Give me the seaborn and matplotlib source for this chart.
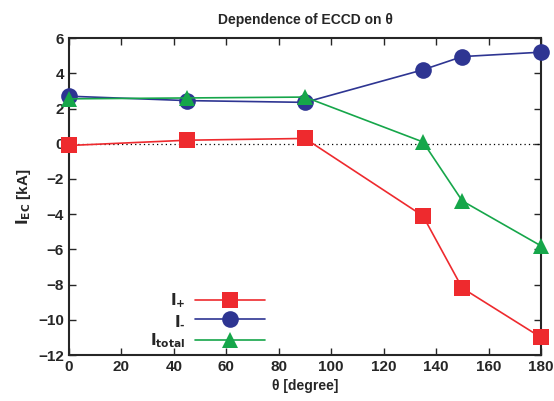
import matplotlib
matplotlib.use("Agg")
import matplotlib.pyplot as plt
import seaborn as sns
import pandas as pd

theta = [0, 45, 90, 135, 150, 180]
i_plus = [-0.1, 0.2, 0.3, -4.1, -8.2, -11.0]
i_minus = [2.7, 2.45, 2.35, 4.2, 4.95, 5.2]
i_total = [2.55, 2.6, 2.65, 0.1, -3.25, -5.8]
xticks = [0, 20, 40, 60, 80, 100, 120, 140, 160, 180]
yticks = [-12, -10, -8, -6, -4, -2, 0, 2, 4, 6]

sns.set_style("ticks")
plt.rcParams['font.family'] = ['Liberation Sans', 'DejaVu Sans']
plt.rcParams['font.weight'] = 'bold'

fig = plt.figure(figsize=(5.54, 4.01), dpi=100)
ax = fig.add_axes([0.1245, 0.1147, 0.852, 0.7903])

df = pd.DataFrame({"theta": theta, "ip": i_plus, "im": i_minus, "it": i_total})

ax.axhline(0, color="black", lw=0.9, ls=(0, (1, 2.5)), zorder=1)
sns.lineplot(data=df, x="theta", y="ip", ax=ax, color="#ee2a2e", marker="s",
             markersize=12, markeredgewidth=0, lw=1.2, label=r"$\mathbf{I}_{\mathbf{+}}$", clip_on=False, zorder=3)
sns.lineplot(data=df, x="theta", y="im", ax=ax, color="#2e3592", marker="o",
             markersize=12, markeredgewidth=0, lw=1.2, label=r"$\mathbf{I}_{\mathbf{\text{-}}}$", clip_on=False, zorder=3)
sns.lineplot(data=df, x="theta", y="it", ax=ax, color="#16a64a", marker="^",
             markersize=11, markeredgewidth=0, lw=1.2, label=r"$\mathbf{I}_{\mathbf{total}}$", clip_on=False, zorder=3)

ax.set_xlim(0, 180)
ax.set_ylim(-12, 6)
ax.set_xticks(xticks)
ax.set_yticks(yticks)
ax.tick_params(direction="in", top=True, right=True, length=5, width=1, labelsize=11)
for lab in ax.get_xticklabels() + ax.get_yticklabels():
    lab.set_fontweight("bold")
for s in ax.spines.values():
    s.set_linewidth(1.5)
    s.set_visible(True)

ax.set_xlabel("θ [degree]", fontsize=10, fontweight="bold")
ax.set_ylabel(r"$\mathbf{I_{EC}}$ [kA]", fontsize=11, fontweight="bold")
ax.set_title("Dependence of ECCD on θ", fontsize=10, fontweight="bold", pad=10)

leg = ax.legend(loc="lower right", bbox_to_anchor=(0.415, 0.015), frameon=False,
                markerfirst=False, fontsize=11, handlelength=4.6, labelspacing=0.25,
                handletextpad=0.6, borderpad=0, borderaxespad=0)
for t in leg.get_texts():
    t.set_ha("right")

fig.savefig("out.png", dpi=100)
